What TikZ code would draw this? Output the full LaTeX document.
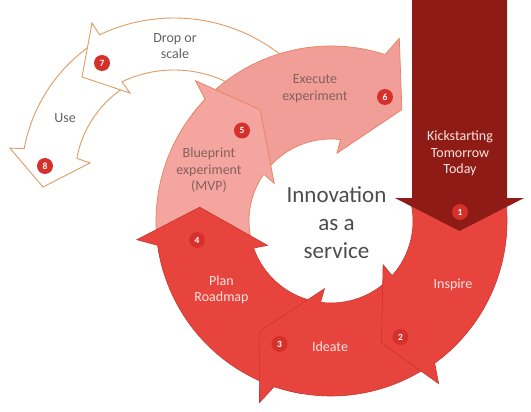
\documentclass[tikz,border=0pt]{standalone}
\usepackage{fontspec}
\setmainfont{Carlito}
\definecolor{ringred}{HTML}{E8443E}
\definecolor{ringedge}{HTML}{C9362F}
\definecolor{bpink}{HTML}{F4A59F}
\definecolor{expink}{HTML}{F29E98}
\definecolor{pinkedge}{HTML}{E3835F}
\definecolor{tanedge}{HTML}{DE9E62}
\definecolor{darkred}{HTML}{8E1B15}
\definecolor{badgered}{HTML}{D6302B}
\definecolor{greytext}{HTML}{626262}
\definecolor{pinktext}{HTML}{85615D}
\definecolor{lighttext}{HTML}{FCE4E0}
\definecolor{centertext}{HTML}{4D4D4D}
\begin{document}
\begin{tikzpicture}[x=1pt,y=-1pt,
  redarrow/.style={fill=ringred,draw=ringedge,line width=0.6pt,line join=miter},
  bparrow/.style={fill=bpink,draw=pinkedge,line width=0.7pt,line join=miter},
  exarrow/.style={fill=expink,draw=pinkedge,line width=0.7pt,line join=miter},
  whitearrow/.style={fill=white,draw=tanedge,line width=0.9pt,line join=miter},
  badge/.style={circle,fill=badgered,minimum size=16pt,inner sep=0pt,text=white,font=\bfseries\fontsize{9.5}{10}\selectfont},
  lbl/.style={align=center,inner sep=0pt,font=\fontsize{14}{16.5}\selectfont}]
\useasboundingbox (0,0) rectangle (531,412);
\fill[white] (0,0) rectangle (531,412);

% white arrows
\begin{scope}[shift={(183,178)}]
\draw[whitearrow] (236:161.5) arc[start angle=236,end angle=190.5,radius=161.5]
  -- (189.8:175.6) -- (176.3:140.3) -- (189.2:94.2) -- (190.5:108)
  arc[start angle=190.5,end angle=236,radius=108] -- cycle;
\end{scope}
\begin{scope}[shift={(174,191)}]
\draw[whitearrow] (310:173) arc[start angle=310,end angle=244.5,radius=173]
  -- (244:187) -- (231.1:146.5) -- (245.8:107.4) -- (244.5:121)
  arc[start angle=244.5,end angle=310,radius=121] -- cycle;
\end{scope}

% ring arrows
\begin{scope}[shift={(331,221)}]
\draw[exarrow] (217.5:175) arc[start angle=217.5,end angle=288,radius=175]
  -- (290.5:195) -- (302.5:132) -- (275:68) -- (276.7:82)
  arc[start angle=276.7,end angle=217.5,radius=82] -- cycle;
\draw[bparrow] (163:175) arc[start angle=163,end angle=224,radius=175]
  -- (226:195) -- (237.5:132) -- (213.5:68) -- (214.9:82)
  arc[start angle=214.9,end angle=163,radius=82] -- cycle;
\draw[redarrow] (99.5:175) arc[start angle=99.5,end angle=172,radius=175]
  -- (174.5:195) -- (186:132) -- (159:68) -- (160.7:82)
  arc[start angle=160.7,end angle=99.5,radius=82] -- cycle;
\draw[redarrow] (44:175) arc[start angle=44,end angle=108.9,radius=175]
  -- (111.5:195) -- (123:132) -- (95.5:68) -- (97.3:82)
  arc[start angle=97.3,end angle=44,radius=82] -- cycle;
\draw[redarrow] (-15:176) arc[start angle=-15,end angle=53.9,radius=176]
  -- (56.5:195) -- (67.5:132) -- (40:68) -- (41.8:82)
  arc[start angle=41.8,end angle=-15,radius=82] -- cycle;
\end{scope}

% dark arrow
\fill[darkred] (412,0) -- (507,0) -- (507,198) -- (524,198) -- (459.5,231)
  -- (395,198) -- (412,198) -- cycle;

% labels
\node[lbl,text=greytext] (drop) at (175,46) {Drop or\\scale};
\node[lbl,text=greytext] (use) at (65,118) {Use};
\node[lbl,text=pinktext] (exec) at (315,88.5) {Execute\\experiment};
\node[lbl,text=pinktext] (blue) at (209,170.5) {Blueprint\\experiment\\(MVP)};
\node[lbl,text=lighttext] (kick) at (460,153.5) {Kickstarting\\Tomorrow\\Today};
\node[lbl,text=lighttext] (insp) at (453,285) {Inspire};
\node[lbl,text=lighttext] (idea) at (330,347) {Ideate};
\node[lbl,text=lighttext] (plan) at (221.5,290) {Plan\\Roadmap};
\node[align=center,inner sep=0pt,text=centertext,font=\fontsize{23}{28}\selectfont] (center) at (336.5,223) {Innovation\\as a\\service};

% badges
\node[badge] (b1) at (460,212) {1};
\node[badge] (b2) at (400.5,337) {2};
\node[badge] (b3) at (279.5,344) {3};
\node[badge] (b4) at (197,240) {4};
\node[badge] (b5) at (242,130.5) {5};
\node[badge] (b6) at (385,97) {6};
\node[badge] (b7) at (102,63) {7};
\node[badge] (b8) at (45,166) {8};
\end{tikzpicture}
\end{document}
